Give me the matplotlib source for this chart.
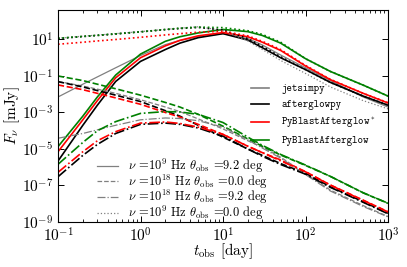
import numpy as np
import matplotlib
matplotlib.use("Agg")
import matplotlib.pyplot as plt
from matplotlib.lines import Line2D
from matplotlib.ticker import NullLocator

plt.rcParams['font.family'] = 'cmr10'
plt.rcParams['mathtext.fontset'] = 'cm'
plt.rcParams['axes.formatter.use_mathtext'] = True
plt.rcParams['axes.unicode_minus'] = False

# observer time [day]
t_obs = [0.1, 0.2, 0.3, 0.5, 1, 2, 3, 5, 10, 20, 30, 50, 100, 200, 500, 1000]

# log10 F_nu [mJy], nu=1e9 Hz, theta_obs=9.2 deg (solid)
jet_rad_off = [-2.15, -1.45, -1.05, -0.55, 0.12, 0.72, 0.95, 1.15, 1.32, 1.05, 0.7, 0.15, -0.55, -1.25, -2.15, -2.7]
agp_rad_off = [-5.66, -3.7, -2.6, -1.3, -0.2, 0.45, 0.8, 1.1, 1.32, 0.97, 0.55, 0.0, -0.65, -1.35, -2.1, -2.6]
pbas_rad_off = [-5.15, -3.4, -2.35, -1.1, 0.0, 0.65, 0.95, 1.2, 1.38, 1.15, 0.85, 0.4, -0.45, -1.2, -1.95, -2.48]
pba_rad_off = [-4.87, -3.2, -2.15, -0.95, 0.2, 0.9, 1.15, 1.36, 1.55, 1.43, 1.22, 0.8, -0.05, -0.75, -1.5, -2.1]

# nu=1e18 Hz, theta_obs=0.0 deg (dashed)
jet_x_on = [-1.3, -1.55, -1.72, -1.95, -2.3, -2.7, -2.95, -3.35, -3.9, -4.55, -4.9, -5.45, -6.35, -7.25, -8.1, -8.7]
agp_x_on = [-1.31, -1.6, -1.8, -2.05, -2.4, -2.9, -3.2, -3.7, -4.35, -5.0, -5.35, -5.8, -6.33, -7.07, -7.89, -8.52]
pbas_x_on = [-1.49, -1.75, -1.95, -2.2, -2.55, -3.0, -3.25, -3.65, -4.2, -4.85, -5.2, -5.6, -6.24, -6.97, -7.8, -8.44]
pba_x_on = [-1.0, -1.25, -1.45, -1.7, -2.05, -2.45, -2.7, -3.1, -3.75, -4.45, -4.85, -5.33, -5.9, -6.5, -7.4, -7.98]

# nu=1e18 Hz, theta_obs=9.2 deg (dash-dot)
jet_x_off = [-4.41, -4.15, -3.95, -3.7, -3.4, -3.3, -3.33, -3.45, -3.8, -4.5, -4.95, -5.5, -6.4, -7.3, -8.15, -8.72]
agp_x_off = [-6.52, -5.35, -4.75, -4.15, -3.65, -3.58, -3.65, -3.85, -4.3, -5.0, -5.4, -5.85, -6.38, -7.1, -7.92, -8.55]
pbas_x_off = [-6.28, -5.15, -4.55, -4.05, -3.58, -3.52, -3.6, -3.8, -4.2, -4.85, -5.2, -5.65, -6.25, -6.98, -7.82, -8.45]
pba_x_off = [-5.84, -4.64, -4.0, -3.5, -3.05, -2.95, -2.97, -3.1, -3.55, -4.35, -4.8, -5.3, -5.88, -6.5, -7.4, -7.97]

# nu=1e9 Hz, theta_obs=0.0 deg (dotted)
jet_rad_on = [1.07, 1.18, 1.24, 1.32, 1.43, 1.55, 1.62, 1.7, 1.5, 0.92, 0.45, -0.15, -0.86, -1.6, -2.35, -2.8]
agp_rad_on = [1.05, 1.16, 1.22, 1.3, 1.42, 1.54, 1.6, 1.66, 1.52, 1.05, 0.62, 0.05, -0.65, -1.35, -2.1, -2.6]
pbas_rad_on = [0.74, 0.85, 0.92, 1.0, 1.12, 1.25, 1.32, 1.4, 1.45, 1.2, 0.9, 0.45, -0.42, -1.18, -1.95, -2.46]
pba_rad_on = [1.07, 1.17, 1.23, 1.31, 1.42, 1.55, 1.62, 1.68, 1.65, 1.48, 1.28, 0.85, -0.05, -0.75, -1.5, -2.1]

codes = ["jetsimpy", "afterglowpy", "PyBlastAfterglow$^*$", "PyBlastAfterglow"]
colors = ["gray", "black", "red", "green"]
widths = [0.9, 1.2, 1.2, 1.2]

runs = [
    ("-", [jet_rad_off, agp_rad_off, pbas_rad_off, pba_rad_off]),
    ("--", [jet_x_on, agp_x_on, pbas_x_on, pba_x_on]),
    ("-.", [jet_x_off, agp_x_off, pbas_x_off, pba_x_off]),
    (":", [jet_rad_on, agp_rad_on, pbas_rad_on, pba_rad_on]),
]
run_labels = [
    r"$\nu$ =$10^{9}$ Hz $\theta_{\rm obs}$ =9.2 deg",
    r"$\nu$ =$10^{18}$ Hz $\theta_{\rm obs}$ =0.0 deg",
    r"$\nu$ =$10^{18}$ Hz $\theta_{\rm obs}$ =9.2 deg",
    r"$\nu$ =$10^{9}$ Hz $\theta_{\rm obs}$ =0.0 deg",
]

fig = plt.figure(figsize=(4.07, 2.67), dpi=100)
ax = fig.add_axes([58/407, 45/267, 330/407, 212.5/267])

t = np.array(t_obs)
for ls, curves in runs:
    for lg, c, lw in zip(curves, colors, widths):
        ax.plot(t, 10**np.array(lg), ls=ls, color=c, lw=lw)

ax.set_xscale("log")
ax.set_yscale("log")
ax.set_xlim(1e-1, 1e3)
ax.set_ylim(1e-9, 4.4e2)
ax.set_yticks([1e-9, 1e-7, 1e-5, 1e-3, 1e-1, 1e1])
ax.yaxis.set_minor_locator(NullLocator())
ax.tick_params(which="both", direction="in", top=True, right=True, labelsize=11)
ax.tick_params(which="major", length=4, width=0.7)
ax.tick_params(which="minor", length=2, width=0.6)
for s in ax.spines.values():
    s.set_linewidth(0.8)

ax.set_xlabel(r"$t_{\rm obs}$ [day]", fontsize=11, labelpad=-2.5)
ax.set_ylabel(r"$F_{\nu}$ [mJy]", fontsize=11, labelpad=0)

h1 = [Line2D([], [], color=c, lw=1.2) for c in colors]
leg1 = ax.legend(h1, codes, loc="upper left", bbox_to_anchor=(0.585, 0.65),
                 frameon=False, prop={"family": "cmtt10", "size": 7.5},
                 handlelength=1.7, handletextpad=1.2, labelspacing=0.55,
                 borderpad=0, borderaxespad=0)
ax.add_artist(leg1)

h2 = [Line2D([], [], color="gray", lw=0.9, ls=ls) for ls, _ in runs]
ax.legend(h2, run_labels, loc="upper left", bbox_to_anchor=(0.118, 0.305),
          frameon=False, fontsize=9, handlelength=1.7, handletextpad=0.8,
          labelspacing=-0.2, borderpad=0, borderaxespad=0)

fig.savefig("out.png", dpi=100)
